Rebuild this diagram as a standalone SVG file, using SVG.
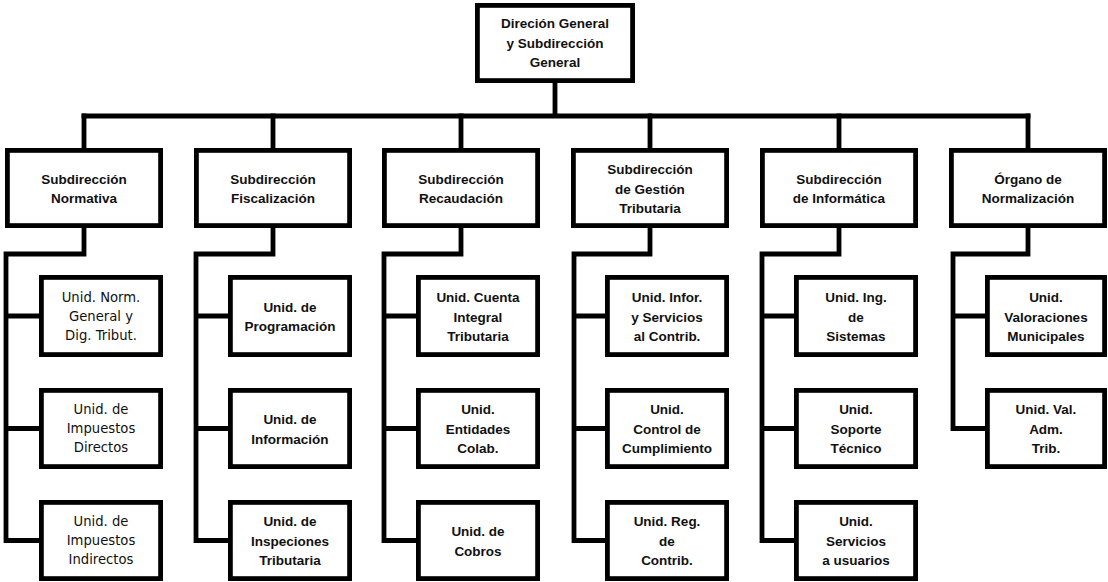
<svg xmlns="http://www.w3.org/2000/svg" width="1108" height="582" viewBox="0 0 1108 582">
  <style>
    .box { fill: #fff; stroke: #000; stroke-width: 4.8; }
    .wire { fill: none; stroke: #000; stroke-width: 4.8; stroke-linejoin: miter; stroke-linecap: square; }
    text { font-family: "Liberation Sans", Arial, sans-serif; font-size: 13.5px; font-weight: bold; text-anchor: middle; fill: #111; }
    .plain { font-family: "DejaVu Sans", sans-serif; font-size: 13.2px; font-weight: normal; }
  </style>
  <rect width="1108" height="582" fill="#fff"/>

  <!-- connectors -->
  <g id="connectors" class="wire">
    <path d="M555 83 V116 M84 116 H1028"/>
    <path d="M84 116 V148 M273 116 V148 M461 116 V148 M650 116 V148 M839 116 V148 M1028 116 V148"/>
    <!-- column 1 -->
    <path d="M84 228 V254 H6 V540.5 M6 316 H39 M6 428.5 H39 M6 540.5 H39"/>
    <!-- column 2 -->
    <path d="M273 228 V254 H196 V540.5 M196 316 H228 M196 428.5 H228 M196 540.5 H228"/>
    <!-- column 3 -->
    <path d="M461 228 V254 H384 V540.5 M384 316 H416 M384 428.5 H416 M384 540.5 H416"/>
    <!-- column 4 -->
    <path d="M650 228 V254 H574 V540.5 M574 316 H605 M574 428.5 H605 M574 540.5 H605"/>
    <!-- column 5 -->
    <path d="M839 228 V254 H762 V540.5 M762 316 H794 M762 428.5 H794 M762 540.5 H794"/>
    <!-- column 6 -->
    <path d="M1028 228 V254 H953 V428.5 M953 316 H985 M953 428.5 H985"/>
  </g>

  <!-- top -->
  <g id="direccion-general">
    <rect class="box" x="477.4" y="5.4" width="155.2" height="75.2"/>
    <text x="555" y="28">Direción General</text>
    <text x="555" y="47.5">y Subdirección</text>
    <text x="555" y="67">General</text>
  </g>

  <!-- second level -->
  <g id="sub-normativa">
    <rect class="box" x="7.4" y="150.4" width="153.2" height="75.2"/>
    <text x="84" y="183.5">Subdirección</text>
    <text x="84" y="203">Normativa</text>
  </g>
  <g id="sub-fiscalizacion">
    <rect class="box" x="196.4" y="150.4" width="153.2" height="75.2"/>
    <text x="273" y="183.5">Subdirección</text>
    <text x="273" y="203">Fiscalización</text>
  </g>
  <g id="sub-recaudacion">
    <rect class="box" x="384.4" y="150.4" width="153.2" height="75.2"/>
    <text x="461" y="183.5">Subdirección</text>
    <text x="461" y="203">Recaudación</text>
  </g>
  <g id="sub-gestion">
    <rect class="box" x="573.4" y="150.4" width="153.2" height="75.2"/>
    <text x="650" y="174">Subdirección</text>
    <text x="650" y="193.5">de Gestión</text>
    <text x="650" y="213">Tributaria</text>
  </g>
  <g id="sub-informatica">
    <rect class="box" x="762.4" y="150.4" width="153.2" height="75.2"/>
    <text x="839" y="183.5">Subdirección</text>
    <text x="839" y="203">de Informática</text>
  </g>
  <g id="organo-normalizacion">
    <rect class="box" x="951.4" y="150.4" width="153.2" height="75.2"/>
    <text x="1028" y="183.5">Órgano de</text>
    <text x="1028" y="203">Normalización</text>
  </g>

  <!-- column 1 units -->
  <g id="u-norm-general">
    <rect class="box" x="41.4" y="277.4" width="119.2" height="77.2"/>
    <text class="plain" x="101" y="302">Unid. Norm.</text>
    <text class="plain" x="101" y="321">General y</text>
    <text class="plain" x="101" y="340">Dig. Tribut.</text>
  </g>
  <g id="u-imp-directos">
    <rect class="box" x="41.4" y="390.4" width="119.2" height="76.2"/>
    <text class="plain" x="101" y="414">Unid. de</text>
    <text class="plain" x="101" y="433">Impuestos</text>
    <text class="plain" x="101" y="452">Directos</text>
  </g>
  <g id="u-imp-indirectos">
    <rect class="box" x="41.4" y="502.4" width="119.2" height="76.2"/>
    <text class="plain" x="101" y="526">Unid. de</text>
    <text class="plain" x="101" y="545">Impuestos</text>
    <text class="plain" x="101" y="564">Indirectos</text>
  </g>

  <!-- column 2 units -->
  <g id="u-programacion">
    <rect class="box" x="230.4" y="277.4" width="119.2" height="77.2"/>
    <text x="290" y="311.5">Unid. de</text>
    <text x="290" y="331">Programación</text>
  </g>
  <g id="u-informacion">
    <rect class="box" x="230.4" y="390.4" width="119.2" height="76.2"/>
    <text x="290" y="424">Unid. de</text>
    <text x="290" y="443.5">Información</text>
  </g>
  <g id="u-inspecciones">
    <rect class="box" x="230.4" y="502.4" width="119.2" height="76.2"/>
    <text x="290" y="526">Unid. de</text>
    <text x="290" y="545.5">Inspeciones</text>
    <text x="290" y="565">Tributaria</text>
  </g>

  <!-- column 3 units -->
  <g id="u-cuenta-integral">
    <rect class="box" x="418.4" y="277.4" width="119.2" height="77.2"/>
    <text x="478" y="302">Unid. Cuenta</text>
    <text x="478" y="321.5">Integral</text>
    <text x="478" y="341">Tributaria</text>
  </g>
  <g id="u-entidades">
    <rect class="box" x="418.4" y="390.4" width="119.2" height="76.2"/>
    <text x="478" y="414">Unid.</text>
    <text x="478" y="433.5">Entidades</text>
    <text x="478" y="453">Colab.</text>
  </g>
  <g id="u-cobros">
    <rect class="box" x="418.4" y="502.4" width="119.2" height="76.2"/>
    <text x="478" y="536">Unid. de</text>
    <text x="478" y="555.5">Cobros</text>
  </g>

  <!-- column 4 units -->
  <g id="u-informacion-contrib">
    <rect class="box" x="607.4" y="277.4" width="119.2" height="77.2"/>
    <text x="667" y="302">Unid. Infor.</text>
    <text x="667" y="321.5">y Servicios</text>
    <text x="667" y="341">al Contrib.</text>
  </g>
  <g id="u-cumplimiento">
    <rect class="box" x="607.4" y="390.4" width="119.2" height="76.2"/>
    <text x="667" y="414">Unid.</text>
    <text x="667" y="433.5">Control de</text>
    <text x="667" y="453">Cumplimiento</text>
  </g>
  <g id="u-registro">
    <rect class="box" x="607.4" y="502.4" width="119.2" height="76.2"/>
    <text x="667" y="526">Unid. Reg.</text>
    <text x="667" y="545.5">de</text>
    <text x="667" y="565">Contrib.</text>
  </g>

  <!-- column 5 units -->
  <g id="u-ing-sistemas">
    <rect class="box" x="796.4" y="277.4" width="119.2" height="77.2"/>
    <text x="856" y="302">Unid. Ing.</text>
    <text x="856" y="321.5">de</text>
    <text x="856" y="341">Sistemas</text>
  </g>
  <g id="u-soporte">
    <rect class="box" x="796.4" y="390.4" width="119.2" height="76.2"/>
    <text x="856" y="414">Unid.</text>
    <text x="856" y="433.5">Soporte</text>
    <text x="856" y="453">Técnico</text>
  </g>
  <g id="u-servicios-usuarios">
    <rect class="box" x="796.4" y="502.4" width="119.2" height="76.2"/>
    <text x="856" y="526">Unid.</text>
    <text x="856" y="545.5">Servicios</text>
    <text x="856" y="565">a usuarios</text>
  </g>

  <!-- column 6 units -->
  <g id="u-valoraciones">
    <rect class="box" x="987.4" y="277.4" width="117.2" height="77.2"/>
    <text x="1046" y="302">Unid.</text>
    <text x="1046" y="321.5">Valoraciones</text>
    <text x="1046" y="341">Municipales</text>
  </g>
  <g id="u-val-adm">
    <rect class="box" x="987.4" y="390.4" width="117.2" height="76.2"/>
    <text x="1046" y="414">Unid. Val.</text>
    <text x="1046" y="433.5">Adm.</text>
    <text x="1046" y="453">Trib.</text>
  </g>
</svg>
